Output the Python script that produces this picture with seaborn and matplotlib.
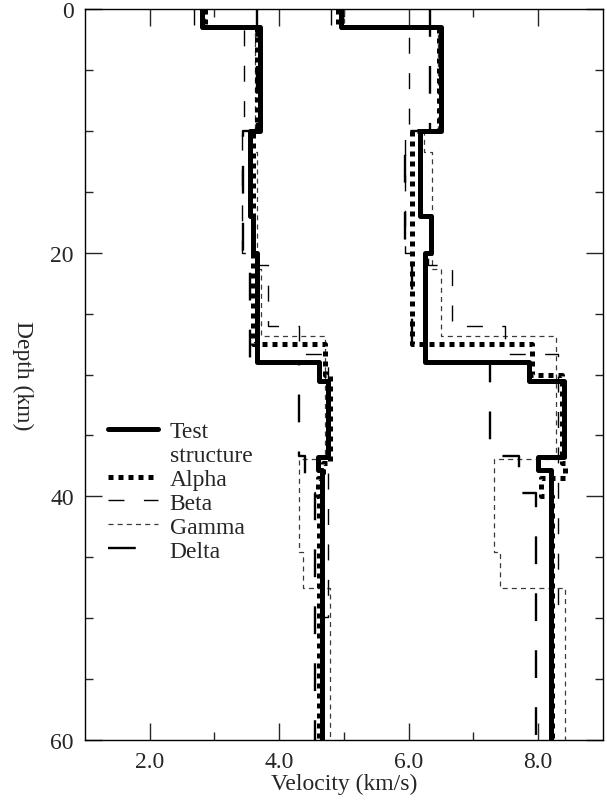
import numpy as np
import pandas as pd
import matplotlib
matplotlib.use("Agg")
import matplotlib.pyplot as plt
import seaborn as sns
from matplotlib.lines import Line2D
from matplotlib.ticker import FixedLocator, MultipleLocator

# ---------------- data (layer boundaries in km, velocities in km/s) ----------------
test_depth = [0, 1.5, 10, 17, 20, 29, 30.5, 36.8, 37.8, 60]
test_vs = [2.80, 3.70, 3.55, 3.60, 3.66, 4.62, 4.75, 4.60, 4.66]
test_vp = [4.95, 6.50, 6.17, 6.35, 6.25, 7.85, 8.40, 8.00, 8.20]

alpha_depth = [0, 1.5, 10, 27.5, 30, 37.3, 38.5, 40, 60]
alpha_vs = [2.85, 3.65, 3.60, 4.70, 4.78, 4.68, 4.60, 4.62]
alpha_vp = [4.90, 6.47, 6.05, 7.90, 8.37, 8.42, 8.05, 8.22]

beta_depth = [0, 1.5, 10, 20, 21, 26, 28.3, 49.9, 60]
beta_vs = [2.68, 3.46, 3.42, 3.60, 3.83, 4.30, 4.75, 4.68]
beta_vp = [4.80, 6.00, 5.94, 6.30, 6.67, 7.49, 8.30, 8.20]

gamma_depth = [0, 1.5, 10, 11.7, 21.3, 26.8, 36.9, 44.6, 47.5, 60]
gamma_vs = [2.85, 3.63, 3.56, 3.66, 3.72, 4.70, 4.30, 4.37, 4.78]
gamma_vp = [5.00, 6.45, 6.23, 6.36, 6.50, 8.27, 7.32, 7.41, 8.42]

delta_depth = [0, 10, 20, 29, 36.7, 39.7, 60]
delta_vs = [3.65, 3.44, 3.55, 4.30, 4.40, 4.55]
delta_vp = [6.33, 5.94, 6.05, 7.25, 7.70, 7.97]

labels = ["Test", "structure", "Alpha", "Beta", "Gamma", "Delta"]
x_ticks = [2, 4, 6, 8]
x_ticklabels = ["2.0", "4.0", "6.0", "8.0"]
y_ticks = [0, 20, 40, 60]

# ---------------- style ----------------
sns.set_style("ticks")
plt.rcParams["font.family"] = ["Liberation Serif", "DejaVu Serif"]
plt.rcParams["lines.scale_dashes"] = False
FS = 17

styles = {
    "Gamma": dict(color="#3a3a3a", linewidth=0.9, linestyle=(0, (3.6, 3.0))),
    "Beta": dict(color="black", linewidth=1.0, linestyle=(0, (11.5, 14.0))),
    "Delta": dict(color="black", linewidth=1.7, linestyle=(0, (20.0, 21.0))),
    "Test": dict(color="black", linewidth=3.6, linestyle="-"),
    "Alpha": dict(color="black", linewidth=3.6, linestyle=(0, (3.6, 3.6))),
}

models = [
    ("Gamma", gamma_depth, gamma_vs, gamma_vp),
    ("Beta", beta_depth, beta_vs, beta_vp),
    ("Delta", delta_depth, delta_vs, delta_vp),
    ("Test", test_depth, test_vs, test_vp),
    ("Alpha", alpha_depth, alpha_vs, alpha_vp),
]


def steps(depth, vel):
    xs, ys = [], []
    for i, v in enumerate(vel):
        xs += [v, v]
        ys += [depth[i], depth[i + 1]]
    return pd.DataFrame({"v": xs, "d": ys})


fig = plt.figure(figsize=(6.07, 8.03), dpi=100)
ax = fig.add_axes([85 / 607, 1 - 741 / 803, 518 / 607, 731 / 803])

for name, depth, vs, vp in models:
    for vel in (vs, vp):
        df = steps(depth, vel)
        sns.lineplot(data=df, x="v", y="d", sort=False, estimator=None,
                     ax=ax, **styles[name])

ax.set_xlim(1, 9)
ax.set_ylim(60, 0)
ax.xaxis.set_major_locator(FixedLocator(x_ticks))
ax.set_xticklabels(x_ticklabels)
ax.xaxis.set_minor_locator(FixedLocator([3, 5, 7]))
ax.yaxis.set_major_locator(FixedLocator(y_ticks))
ax.yaxis.set_minor_locator(MultipleLocator(5))
ax.tick_params(which="both", direction="in", top=True, right=True,
               width=1.0, labelsize=FS, pad=8)
ax.tick_params(which="major", length=12)
ax.tick_params(which="minor", length=6)
for s in ax.spines.values():
    s.set_linewidth(1.0)
    s.set_color("black")

ax.set_xlabel("Velocity (km/s)", fontsize=FS, va="center")
ax.xaxis.set_label_coords(0.5, -0.06)
ax.set_ylabel("Depth (km)", fontsize=FS, rotation=270, va="center")
ax.yaxis.set_label_coords(-0.12, 0.5)

handles = [
    Line2D([], [], **styles["Test"]),
    Line2D([], [], color="none", linewidth=0),
    Line2D([], [], **styles["Alpha"]),
    Line2D([], [], **styles["Beta"]),
    Line2D([], [], **styles["Gamma"]),
    Line2D([], [], **styles["Delta"]),
]
ax.legend(handles, labels, loc="upper left", bbox_to_anchor=(0.045, 0.437),
          frameon=False, fontsize=FS, handlelength=2.1, handletextpad=0.5,
          labelspacing=0.1, borderpad=0, borderaxespad=0)

fig.savefig("out.png", dpi=100)
